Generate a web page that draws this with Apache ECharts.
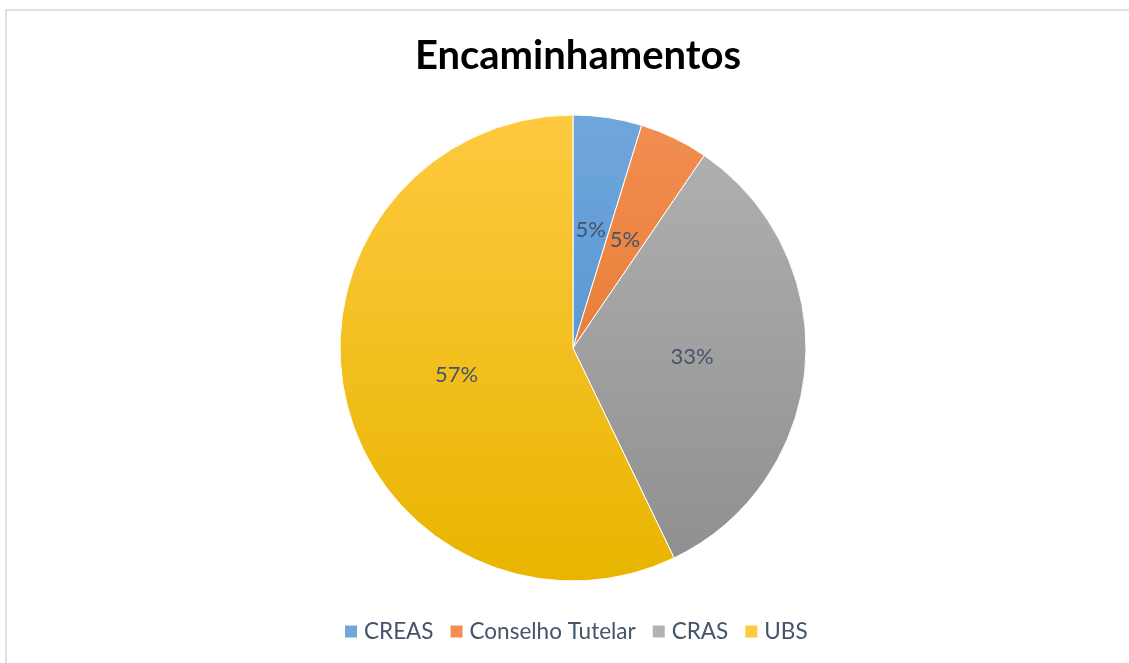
<!DOCTYPE html>
<html>
<head>
<meta charset="utf-8">
<script src="https://cdn.jsdelivr.net/npm/echarts@6/dist/echarts.min.js"></script>
<style>
html,body{margin:0;padding:0;background:#fff;}
#frame{position:absolute;left:5px;top:9px;width:1130px;height:660px;border-left:2px solid #DDE2E9;border-top:2px solid #DDE2E9;box-sizing:border-box;}
#chart{position:absolute;left:0;top:0;width:1129px;height:663px;}
</style>
</head>
<body>
<div id="chart"></div>
<div id="frame"></div>
<script>
const titleText = 'Encaminhamentos';
const categories = ['CREAS', 'Conselho Tutelar', 'CRAS', 'UBS'];
const values = [1, 1, 7, 12];
const gradients = [
  ['#6FA6DC', '#4A8BCB'],
  ['#F28E52', '#E0701F'],
  ['#B2B2B2', '#8E8E8E'],
  ['#FFC940', '#E8B500']
];

const chart = echarts.init(document.getElementById('chart'), null, {renderer: 'canvas'});
const font = 'Lato, "Open Sans", sans-serif';
const textColor = '#44546A';

const data = categories.map((c, i) => ({
  name: c,
  value: values[i],
  itemStyle: {
    color: {
      type: 'linear', x: 0, y: 115, x2: 0, y2: 581, global: true,
      colorStops: [
        {offset: 0, color: gradients[i][0]},
        {offset: 1, color: gradients[i][1]}
      ]
    }
  }
}));

chart.setOption({
  animation: false,
  backgroundColor: 'transparent',
  title: {
    text: titleText,
    left: 573,
    textAlign: 'center',
    top: 31,
    textStyle: {fontFamily: font, fontWeight: 'bold', fontSize: 40, color: '#000'}
  },
  legend: {
    bottom: 15,
    left: 338,
    itemWidth: 14,
    itemHeight: 14,
    itemGap: 15,
    icon: 'rect',
    textStyle: {fontFamily: font, fontSize: 22.5, color: textColor, padding: [0, 0, 0, 1]},
    data: categories
  },
  series: [{
    type: 'pie',
    center: [573, 348],
    radius: 233,
    startAngle: 90,
    clockwise: true,
    avoidLabelOverlap: false,
    itemStyle: {borderColor: '#fff', borderWidth: 1},
    label: {
      show: true,
      position: 'inside',
      formatter: p => Math.round(p.percent) + '%',
      fontFamily: font,
      fontSize: 22,
      color: textColor
    },
    labelLine: {show: false},
    emphasis: {disabled: true},
    data: data
  }]
});
</script>
</body>
</html>
